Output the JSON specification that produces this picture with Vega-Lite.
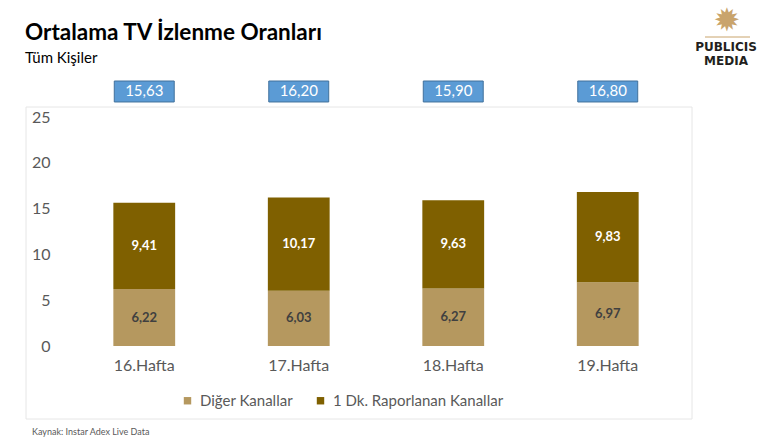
{
  "$schema": "https://vega.github.io/schema/vega-lite/v6.json",
  "width": 618,
  "height": 229,
  "autosize": {"type": "none"},
  "padding": {"left": 67, "top": 117, "right": 84, "bottom": 96},
  "background": "white",
  "config": {
    "view": {"stroke": null},
    "font": "Lato",
    "locale": {"number": {"decimal": ",", "thousands": ".", "grouping": [3], "currency": ["", " TL"]}}
  },
  "datasets": {
    "haftalik": [
      {"hafta": "16.Hafta", "kanal": "Diğer Kanallar", "sira": 1, "deger": 6.22},
      {"hafta": "16.Hafta", "kanal": "1 Dk. Raporlanan Kanallar", "sira": 2, "deger": 9.41},
      {"hafta": "17.Hafta", "kanal": "Diğer Kanallar", "sira": 1, "deger": 6.03},
      {"hafta": "17.Hafta", "kanal": "1 Dk. Raporlanan Kanallar", "sira": 2, "deger": 10.17},
      {"hafta": "18.Hafta", "kanal": "Diğer Kanallar", "sira": 1, "deger": 6.27},
      {"hafta": "18.Hafta", "kanal": "1 Dk. Raporlanan Kanallar", "sira": 2, "deger": 9.63},
      {"hafta": "19.Hafta", "kanal": "Diğer Kanallar", "sira": 1, "deger": 6.97},
      {"hafta": "19.Hafta", "kanal": "1 Dk. Raporlanan Kanallar", "sira": 2, "deger": 9.83}
    ],
    "toplam": [
      {"hafta": "16.Hafta", "toplam": 15.63},
      {"hafta": "17.Hafta", "toplam": 16.20},
      {"hafta": "18.Hafta", "toplam": 15.90},
      {"hafta": "19.Hafta", "toplam": 16.80}
    ],
    "bilgi": [
      {"metin": "Kaynak: Instar  Adex Live Data"}
    ]
  },
  "resolve": {"scale": {"x": "independent", "y": "independent"}, "axis": {"x": "independent", "y": "independent"}},
  "layer": [
    {
      "data": {"name": "bilgi"},
      "layer": [
        {
          "mark": {"type": "rect", "fill": null, "stroke": "#E6E6E6", "strokeWidth": 1},
          "encoding": {
            "x": {"datum": 26, "type": "quantitative", "scale": {"domain": [0, 769], "range": [-67, 702], "nice": false, "zero": false}, "axis": null},
            "x2": {"datum": 692},
            "y": {"datum": 107, "type": "quantitative", "scale": {"domain": [0, 442], "range": [-117, 325], "nice": false, "zero": false}, "axis": null},
            "y2": {"datum": 419}
          }
        },
        {
          "mark": {"type": "text", "align": "left", "baseline": "alphabetic", "fontSize": 22.5, "fontWeight": "bold", "color": "#000000", "font": "Lato"},
          "encoding": {
            "x": {"datum": 25, "type": "quantitative"},
            "y": {"datum": 40, "type": "quantitative"},
            "text": {"value": "Ortalama TV İzlenme Oranları"}
          }
        },
        {
          "mark": {"type": "text", "align": "left", "baseline": "alphabetic", "fontSize": 15, "color": "#000000", "font": "Lato"},
          "encoding": {
            "x": {"datum": 25, "type": "quantitative"},
            "y": {"datum": 63, "type": "quantitative"},
            "text": {"value": "Tüm Kişiler"}
          }
        },
        {
          "mark": {"type": "text", "align": "left", "baseline": "middle", "fontSize": 9, "color": "#595959", "font": "Lato"},
          "encoding": {
            "x": {"datum": 32, "type": "quantitative"},
            "y": {"datum": 432, "type": "quantitative"},
            "text": {"field": "metin"}
          }
        },
        {
          "mark": {"type": "text", "align": "center", "baseline": "alphabetic", "fontSize": 12, "fontWeight": "bold", "color": "#231F20", "font": "DejaVu Sans"},
          "encoding": {
            "x": {"datum": 726, "type": "quantitative"},
            "y": {"datum": 51, "type": "quantitative"},
            "text": {"value": "PUBLICIS"}
          }
        },
        {
          "mark": {"type": "text", "align": "center", "baseline": "alphabetic", "fontSize": 12, "fontWeight": "bold", "color": "#231F20", "font": "DejaVu Sans"},
          "encoding": {
            "x": {"datum": 726, "type": "quantitative"},
            "y": {"datum": 65, "type": "quantitative"},
            "text": {"value": "MEDIA"}
          }
        },
        {
          "mark": {"type": "text", "align": "center", "baseline": "middle", "fontSize": 32, "color": "#C9A46C", "font": "DejaVu Sans"},
          "encoding": {
            "x": {"datum": 727, "type": "quantitative"},
            "y": {"datum": 21, "type": "quantitative"},
            "text": {"value": "✹"}
          }
        },
        {
          "mark": {"type": "rule", "color": "#C9A46C", "strokeWidth": 1},
          "encoding": {
            "x": {"datum": 705, "type": "quantitative"},
            "x2": {"datum": 750},
            "y": {"datum": 37, "type": "quantitative"}
          }
        }
      ]
    },
    {
      "layer": [
        {
          "data": {"name": "haftalik"},
          "mark": {"type": "bar"},
          "encoding": {
            "x": {
              "field": "hafta", "type": "nominal", "sort": null,
              "scale": {"paddingInner": 0.6, "paddingOuter": 0.3},
              "axis": {"orient": "bottom", "title": null, "labelAngle": 0, "domain": false, "ticks": false, "labelPadding": 11, "labelFontSize": 16, "labelColor": "#595959", "labelFont": "Lato"}
            },
            "y": {
              "field": "deger", "type": "quantitative", "stack": "zero",
              "scale": {"domain": [0, 25], "nice": false},
              "axis": {"orient": "left", "title": null, "values": [0, 5, 10, 15, 20, 25], "domain": false, "ticks": false, "labelPadding": 17, "labelFontSize": 16, "labelColor": "#595959", "labelFont": "Lato", "gridColor": "#D9D9D9", "format": "d"}
            },
            "color": {
              "field": "kanal", "type": "nominal",
              "scale": {"domain": ["Diğer Kanallar", "1 Dk. Raporlanan Kanallar"], "range": ["#B5985F", "#7F6000"]},
              "legend": {"title": null, "orient": "none", "direction": "horizontal", "legendX": 113, "legendY": 276, "symbolType": "square", "symbolSize": 55, "symbolStrokeWidth": 0, "labelFontSize": 15, "labelColor": "#595959", "labelFont": "Lato", "labelOffset": 5, "columnPadding": 20, "labelLimit": 300}
            },
            "order": {"field": "sira", "type": "quantitative"}
          }
        },
        {
          "data": {"name": "haftalik"},
          "mark": {"type": "text", "fontSize": 13, "fontWeight": "bold", "baseline": "middle", "font": "Lato"},
          "encoding": {
            "x": {"field": "hafta", "type": "nominal", "sort": null},
            "y": {"field": "deger", "type": "quantitative", "stack": "zero", "bandPosition": 0.5},
            "order": {"field": "sira", "type": "quantitative"},
            "text": {"field": "deger", "type": "quantitative", "format": ".2f"},
            "color": {"condition": {"test": "datum.kanal === '1 Dk. Raporlanan Kanallar'", "value": "#FFFFFF"}, "value": "#404040"}
          }
        },
        {
          "data": {"name": "toplam"},
          "mark": {"type": "bar", "fill": "#5B9BD5", "stroke": "#41719C", "strokeWidth": 1, "width": {"band": 0.97}},
          "encoding": {
            "x": {"field": "hafta", "type": "nominal", "sort": null},
            "y": {"datum": 26.64, "type": "quantitative"},
            "y2": {"datum": 28.93}
          }
        },
        {
          "data": {"name": "toplam"},
          "mark": {"type": "text", "fontSize": 15, "color": "#FFFFFF", "baseline": "middle", "font": "Lato"},
          "encoding": {
            "x": {"field": "hafta", "type": "nominal", "sort": null},
            "y": {"datum": 27.8, "type": "quantitative"},
            "text": {"field": "toplam", "type": "quantitative", "format": ".2f"}
          }
        }
      ]
    }
  ]
}
